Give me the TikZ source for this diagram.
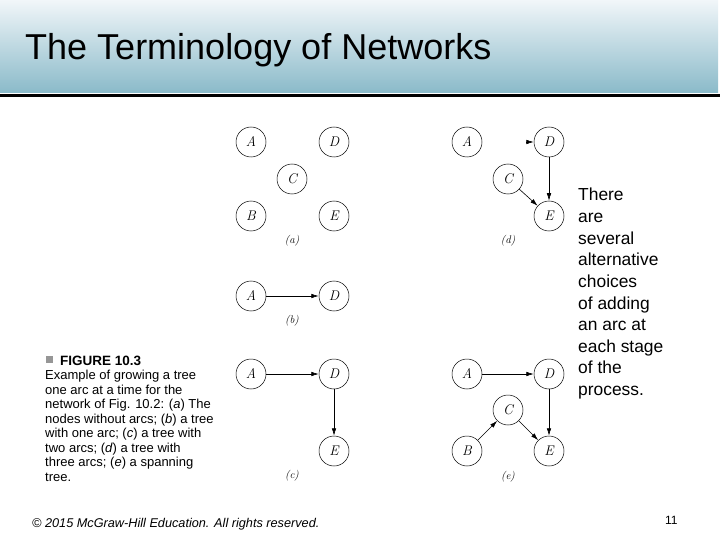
\documentclass[tikz,border=0pt]{standalone}
\usepackage{fontspec}
\newfontfamily\arialfont{Liberation Sans}
\usetikzlibrary{arrows.meta}
\definecolor{barlight}{RGB}{241,246,249}
\definecolor{bardark}{RGB}{138,186,201}
\definecolor{bulletgray}{RGB}{150,150,150}

\begin{document}
\begin{tikzpicture}[x=1pt, y=-1pt,
  nd/.style={draw, circle, minimum size=30pt, inner sep=0pt, line width=0.5pt,
             font=\itshape\fontsize{14}{14}\selectfont},
  arc/.style={-{Latex[length=7.5pt, width=4.5pt]}, line width=0.6pt},
  sub/.style={font=\itshape\fontsize{11}{11}\selectfont},
  capline/.style={anchor=base west, inner sep=0pt,
                  font=\arialfont\fontsize{13}{13}\selectfont},
  side/.style={anchor=base west, inner sep=0pt,
               font=\arialfont\fontsize{17.4}{17.4}\selectfont},
]
\useasboundingbox (0,0) rectangle (720,540);

%% Title bar
\shade[top color=barlight, bottom color=bardark] (0,0) rectangle (718,93);
\draw[line width=3pt] (0,95.5) -- (720,95.5);
\node[anchor=base west, inner sep=0pt, font=\arialfont\fontsize{36}{36}\selectfont]
  (title) at (25,60) {The Terminology of Networks};

%% (a) nodes without arcs
\node[nd] (aA) at (251,142) {A};
\node[nd] (aD) at (334,142) {D};
\node[nd] (aC) at (292,179) {C};
\node[nd] (aB) at (251,216) {B};
\node[nd] (aE) at (334,216) {E};
\node[sub] (la) at (292,241) {(a)};

%% (b) one arc
\node[nd] (bA) at (251,296) {A};
\node[nd] (bD) at (334,296) {D};
\node[sub] (lb) at (292,321) {(b)};
\draw[arc] (bA) -- (bD);

%% (c) two arcs
\node[nd] (cA) at (251,374) {A};
\node[nd] (cD) at (334,374) {D};
\node[nd] (cE) at (334,451) {E};
\node[sub] (lc) at (292,476) {(c)};
\draw[arc] (cA) -- (cD);
\draw[arc] (cD) -- (cE);

%% (d) three arcs
\node[nd] (dA) at (467,142) {A};
\node[nd] (dD) at (549,142) {D};
\node[nd] (dC) at (508,179) {C};
\node[nd] (dE) at (549,216) {E};
\node[sub] (ld) at (508,241) {(d)};
\coordinate (dstub) at (526,142);
\draw[arc] (dstub) -- (dD);
\draw[arc] (dD) -- (dE);
\draw[arc] (dC) -- (dE);

%% (e) spanning tree
\node[nd] (eA) at (467,374) {A};
\node[nd] (eD) at (549,374) {D};
\node[nd] (eC) at (508,410) {C};
\node[nd] (eB) at (467,451) {B};
\node[nd] (eE) at (549,451) {E};
\node[sub] (le) at (508,477) {(e)};
\draw[arc] (eA) -- (eD);
\draw[arc] (eD) -- (eE);
\draw[arc] (eB) -- (eC);
\draw[arc] (eC) -- (eE);

%% Figure caption
\fill[bulletgray] (46,356) rectangle (53,363) coordinate (bullet);
\node[capline, font=\arialfont\bfseries\fontsize{13.5}{13.5}\selectfont]
  (fig) at (60,365) {FIGURE 10.3};
\node[capline] (c1) at (45,379.5) {Example of growing a tree};
\node[capline] (c2) at (45,394) {one arc at a time for the};
\node[capline] (c3) at (45,408.5) {network of Fig. 10.2: (\textit{a}) The};
\node[capline] (c4) at (45,423) {nodes without arcs; (\textit{b}) a tree};
\node[capline] (c5) at (45,437.5) {with one arc; (\textit{c}) a tree with};
\node[capline] (c6) at (45,452) {two arcs; (\textit{d}) a tree with};
\node[capline] (c7) at (45,466.5) {three arcs; (\textit{e}) a spanning};
\node[capline] (c8) at (45,481) {tree.};

%% Side remark
\foreach \t [count=\i from 0] in {There, are, several, alternative, choices,
    of adding, an arc at, each stage, of the, process.}{
  \node[side] (s\i) at (578,201+\i*21.6) {\t};
}

%% Footer
\node[anchor=base west, inner sep=0pt, font=\arialfont\itshape\fontsize{12.7}{12.7}\selectfont]
  (copy) at (32,527) {\textcopyright{} 2015 McGraw-Hill Education. All rights reserved.};
\node[anchor=base west, inner sep=0pt, font=\arialfont\fontsize{12}{12}\selectfont]
  (page) at (665,524) {11};
\end{tikzpicture}
\end{document}
